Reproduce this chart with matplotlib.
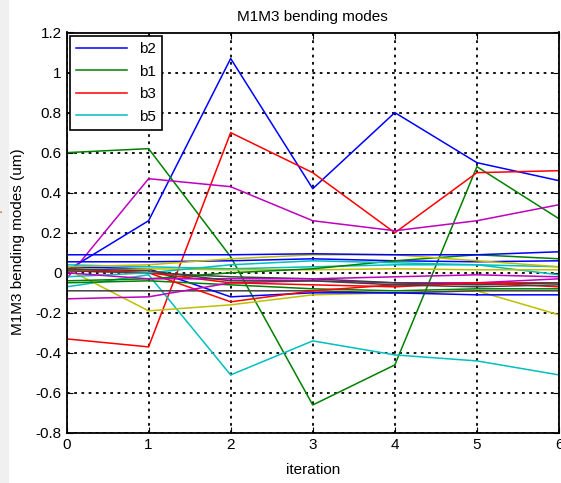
import matplotlib
matplotlib.use("Agg")
import matplotlib.pyplot as plt
from matplotlib.ticker import FuncFormatter
from matplotlib.patches import Rectangle

iterations = [0, 1, 2, 3, 4, 5, 6]
labels = ["b2", "b1", "b3", "b5"]
colors = ["b", "g", "r", "c", "m", "y", "k"]

# one row per bending mode, values per iteration (um)
modes = [
    [0.01, 0.26, 1.07, 0.42, 0.80, 0.55, 0.46],
    [0.60, 0.62, 0.08, -0.66, -0.46, 0.53, 0.27],
    [-0.33, -0.37, 0.70, 0.50, 0.20, 0.50, 0.51],
    [-0.07, -0.01, -0.51, -0.34, -0.41, -0.44, -0.51],
    [-0.03, 0.47, 0.43, 0.26, 0.21, 0.26, 0.34],
    [0.02, -0.19, -0.16, -0.11, -0.10, -0.09, -0.21],
    [-0.09, -0.09, -0.09, -0.09, -0.10, -0.09, -0.09],
    [0.03, 0.02, -0.12, -0.10, -0.10, -0.11, -0.11],
    [-0.05, -0.04, -0.06, -0.08, -0.09, -0.08, -0.08],
    [0.01, 0.00, -0.145, -0.09, -0.06, -0.05, -0.05],
    [0.04, 0.03, 0.02, 0.03, 0.04, 0.04, -0.01],
    [-0.13, -0.12, -0.05, -0.04, -0.05, -0.05, -0.03],
    [0.01, 0.02, 0.015, 0.015, 0.02, 0.015, 0.015],
    [0.01, 0.00, -0.02, -0.03, -0.05, -0.06, -0.05],
    [0.055, 0.055, 0.06, 0.07, 0.06, 0.055, 0.06],
    [-0.04, -0.03, 0.00, 0.02, 0.06, 0.09, 0.07],
    [0.02, 0.00, -0.05, -0.06, -0.07, -0.05, -0.07],
    [-0.02, 0.00, 0.04, 0.06, 0.05, 0.04, 0.03],
    [0.00, -0.03, -0.03, -0.03, -0.02, -0.01, -0.02],
    [0.03, 0.04, 0.07, 0.09, 0.09, 0.06, 0.03],
    [0.02, 0.01, -0.04, -0.04, -0.06, -0.07, -0.06],
    [0.09, 0.09, 0.09, 0.095, 0.09, 0.09, 0.105],
]

plt.rcParams['font.family'] = ['Liberation Sans', 'DejaVu Sans']

fig = plt.figure(figsize=(5.61, 4.83), dpi=100)
fig.patches.append(Rectangle((0, 0), 8 / 561, 1, transform=fig.transFigure,
                             color="#f0f0f0", zorder=0))
ax = fig.add_axes([66.5 / 561, 50 / 483, 492.5 / 561, 400.5 / 483])

for i, vals in enumerate(modes):
    lab = labels[i] if i < len(labels) else None
    c = colors[i % len(colors)]
    if c == "k":
        c = "#404040"
    ax.plot(iterations, vals, color=c, lw=1.1, label=lab)

ax.set_xlim(0, 6)
ax.set_ylim(-0.8, 1.2)
ax.set_xticks(iterations)
ax.set_yticks([-0.8 + 0.2 * k for k in range(11)])
ax.yaxis.set_major_formatter(FuncFormatter(lambda v, p: f"{round(v, 1):g}"))
ax.grid(True, color="k", linestyle=(0, (1.5, 2.5)), lw=1.3)
ax.tick_params(direction="in", top=True, right=True, length=4, labelsize=11)
for s in ax.spines.values():
    s.set_linewidth(1.3)

ax.set_title("M1M3 bending modes", fontsize=11, pad=8)
ax.set_xlabel("iteration", fontsize=11, labelpad=8)
fig.text(18 / 561, (483 - 242) / 483, "M1M3 bending modes (um)", rotation=90,
         ha="center", va="center", fontsize=11)
fig.text(-5 / 561, (483 - 200) / 483, "amplitude", rotation=90, ha="center",
         va="center", fontsize=11, color="#e07a30")

leg = ax.legend(loc="upper left", fontsize=11, handlelength=3.3,
                borderaxespad=0.25, fancybox=False, framealpha=1,
                edgecolor="k", labelspacing=0.55)
leg.get_frame().set_linewidth(1.2)

plt.savefig("out.png", dpi=100)
plt.close()
